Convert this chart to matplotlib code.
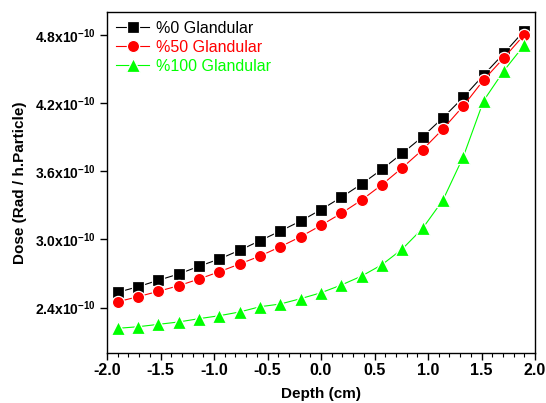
import numpy as np
import matplotlib
matplotlib.use('Agg')
import matplotlib.pyplot as plt
from matplotlib.ticker import FuncFormatter, MultipleLocator

plt.rcParams['font.family'] = ['Liberation Sans', 'DejaVu Sans']
plt.rcParams['mathtext.fontset'] = 'custom'
plt.rcParams['mathtext.rm'] = 'Liberation Sans:bold'
plt.rcParams['mathtext.it'] = 'Liberation Sans:bold'
plt.rcParams['mathtext.bf'] = 'Liberation Sans:bold'

# Profundidad (cm)
depth = np.round(np.linspace(-1.9, 1.9, 21), 2)

# Dosis en unidades de 1e-10 Rad / h.Particle
dose_0 = [2.534, 2.583, 2.640, 2.695, 2.763, 2.827, 2.904, 2.988, 3.073, 3.161,
          3.261, 3.370, 3.487, 3.616, 3.757, 3.903, 4.070, 4.249, 4.446, 4.637, 4.836]
dose_50 = [2.451, 2.495, 2.543, 2.592, 2.651, 2.715, 2.783, 2.853, 2.935, 3.023,
           3.123, 3.229, 3.346, 3.481, 3.630, 3.789, 3.971, 4.173, 4.402, 4.598, 4.800]
dose_100 = [2.217, 2.231, 2.252, 2.273, 2.302, 2.328, 2.361, 2.407, 2.431, 2.478,
            2.530, 2.598, 2.677, 2.777, 2.915, 3.097, 3.346, 3.727, 4.220, 4.484, 4.710]

series = [
    ("%0 Glandular", dose_0, "black", "s", 8.2),
    ("%50 Glandular", dose_50, "red", "o", 8.8),
    ("%100 Glandular", dose_100, "#00FF00", "^", 10.0),
]

fig = plt.figure(figsize=(5.46, 4.03), dpi=100)
ax = fig.add_axes([107 / 546, 50 / 403, 428 / 546, 341 / 403])

for nombre, valores, color, marca, tam in series:
    # borde blanco para imitar el hueco entre línea y marcador
    ax.plot(depth, np.array(valores) * 1e-10, color=color, marker=marca,
            markersize=tam, markeredgecolor='white', markeredgewidth=0.9,
            linewidth=0.8, label=nombre)

ax.set_xlim(-2.0, 2.0)
ax.set_ylim(2.0e-10, 5.0e-10)
ax.set_xticks(np.arange(-2.0, 2.01, 0.5))
ax.xaxis.set_minor_locator(MultipleLocator(0.1))
ax.set_yticks(np.array([2.4, 3.0, 3.6, 4.2, 4.8]) * 1e-10)
ax.yaxis.set_major_formatter(FuncFormatter(lambda v, p: f"{v * 1e10:.1f}x10$^{{-10}}$"))
ax.xaxis.set_major_formatter(FuncFormatter(lambda v, p: f"{v:.1f}"))

ax.tick_params(axis='both', which='major', direction='out', length=5, width=1)
ax.tick_params(axis='x', which='minor', direction='out', length=3, width=0.8)
ax.tick_params(axis='x', labelsize=11.5, pad=2)
ax.tick_params(axis='y', labelsize=10, pad=3)
for lbl in ax.get_xticklabels() + ax.get_yticklabels():
    lbl.set_fontweight('bold')
for s in ax.spines.values():
    s.set_linewidth(1)

ax.set_xlabel("Depth (cm)", fontsize=11, fontweight='bold', labelpad=7)
ax.set_ylabel("Dose (Rad / h.Particle)", fontsize=11, fontweight='bold', labelpad=6)

ax.legend(loc='upper left', frameon=False, fontsize=11.5, labelcolor='linecolor',
          handlelength=2.1, handletextpad=0.4, labelspacing=0.25,
          borderaxespad=0.15, bbox_to_anchor=(0.0, 1.0))

fig.savefig("out.png", dpi=100)
